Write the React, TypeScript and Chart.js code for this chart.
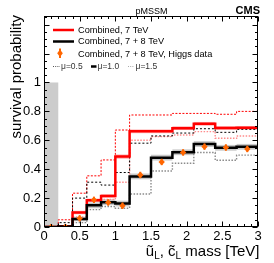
import React, { useEffect, useRef } from 'react';
import { Chart, registerables } from 'chart.js';

Chart.register(...registerables);

// ---- data ----
const binEdges = [0, 0.2, 0.4, 0.6, 0.8, 1.0, 1.2, 1.5, 1.8, 2.1, 2.4, 2.7, 3.0];
const binCenters = [0.1, 0.3, 0.5, 0.7, 0.9, 1.1, 1.35, 1.65, 1.95, 2.25, 2.55, 2.85];
const red7 = [0, 0.005, 0.1, 0.185, 0.215, 0.487, 0.662, 0.662, 0.684, 0.714, 0.685, 0.686];
const red7Err = [0, 0.005, 0.012, 0.012, 0.012, 0.015, 0.013, 0.013, 0.013, 0.013, 0.013, 0.013];
const red7Mu05 = [0, 0.05, 0.234, 0.354, 0.464, 0.671, 0.775, 0.775, 0.786, 0.786, 0.78, 0.8];
const red7Mu15 = [0, 0.0, 0.07, 0.15, 0.19, 0.31, 0.6, 0.625, 0.637, 0.66, 0.614, 0.63];
const black78 = [0, 0.003, 0.055, 0.15, 0.172, 0.162, 0.35, 0.48, 0.517, 0.574, 0.548, 0.555];
const black78Err = [0, 0.005, 0.015, 0.02, 0.02, 0.02, 0.02, 0.02, 0.02, 0.02, 0.02, 0.02];
const black78Mu05 = [0, 0.03, 0.2, 0.31, 0.29, 0.377, 0.58, 0.63, 0.65, 0.68, 0.655, 0.676];
const black78Mu15 = [0, 0, 0.03, 0.12, 0.142, 0.13, 0.228, 0.388, 0.441, 0.515, 0.462, 0.497];
const higgs = [0, 0, 0.06, 0.188, 0.17, 0.147, 0.36, 0.45, 0.516, 0.556, 0.55, 0.54];
const higgsErr = [0.02, 0.02, 0.022, 0.022, 0.022, 0.022, 0.022, 0.022, 0.022, 0.022, 0.022, 0.022];
const excludedX = [0, 0.2];
const excludedY = [0, 1.0];
const xTickLabels = ['0', '0.5', '1', '1.5', '2', '2.5', '3'];
const yTickLabels = ['0', '0.2', '0.4', '0.6', '0.8', '1'];
const legendLabels = ['Combined, 7 TeV', 'Combined, 7 + 8 TeV', 'Combined, 7 + 8 TeV, Higgs data'];
const muLabels = ['\u03bc=0.5', '\u03bc=1.0', '\u03bc=1.5'];

const FONT = "'Liberation Sans', Arial, Helvetica, sans-serif";

function stepPoints(values: number[]) {
  const pts = values.map((v, i) => ({ x: binEdges[i], y: v }));
  pts.push({ x: binEdges[binEdges.length - 1], y: values[values.length - 1] });
  return pts;
}

const rootPlugin = {
  id: 'rootStyle',
  beforeDatasetsDraw(chart: any) {
    const { ctx, scales } = chart;
    const x = scales.x, y = scales.y;
    ctx.save();
    ctx.fillStyle = '#cccccc';
    const ex0 = x.getPixelForValue(excludedX[0]);
    const ex1 = x.getPixelForValue(excludedX[1]);
    const ey0 = y.getPixelForValue(excludedY[0]);
    const ey1 = y.getPixelForValue(excludedY[1]);
    ctx.fillRect(ex0, ey1, ex1 - ex0, ey0 - ey1);
    const band = (vals: number[], errs: number[], color: string) => {
      ctx.fillStyle = color;
      for (let i = 0; i < vals.length; i++) {
        const a = x.getPixelForValue(binEdges[i]);
        const b = x.getPixelForValue(binEdges[i + 1]);
        const t = y.getPixelForValue(vals[i] + errs[i]);
        const btm = y.getPixelForValue(Math.max(0, vals[i] - errs[i]));
        ctx.fillRect(a, t, b - a, btm - t);
      }
    };
    band(red7, red7Err, '#ffb4b4');
    band(black78, black78Err, '#c8c8c8');
    ctx.restore();
  },
  afterDatasetsDraw(chart: any) {
    const { ctx, scales } = chart;
    const x = scales.x, y = scales.y;
    ctx.save();
    ctx.strokeStyle = '#ff6600';
    ctx.lineWidth = 2;
    for (let i = 0; i < binCenters.length; i++) {
      const px = x.getPixelForValue(binCenters[i]);
      const top = y.getPixelForValue(higgs[i] + higgsErr[i]);
      const bot = y.getPixelForValue(Math.max(0, higgs[i] - higgsErr[i]));
      ctx.beginPath();
      ctx.moveTo(px, top);
      ctx.lineTo(px, Math.min(bot, y.getPixelForValue(0)));
      ctx.stroke();
    }
    ctx.restore();
  },
  afterDraw(chart: any) {
    const { ctx, chartArea, scales } = chart;
    const x = scales.x, y = scales.y;
    const L = Math.round(chartArea.left) + 0.5;
    const R = Math.round(chartArea.right) - 0.5;
    const T = Math.round(chartArea.top) + 0.5;
    const B = Math.round(chartArea.bottom) - 0.5;
    ctx.save();
    ctx.strokeStyle = '#000';
    ctx.lineWidth = 1;
    ctx.strokeRect(L, T, R - L, B - T);
    ctx.beginPath();
    for (let k = 0; k <= 30; k++) {
      const v = k * 0.1;
      const px = Math.round(x.getPixelForValue(v)) + 0.5;
      const len = k % 5 === 0 ? 5 : 2.5;
      ctx.moveTo(px, B); ctx.lineTo(px, B - len);
      ctx.moveTo(px, T); ctx.lineTo(px, T + len);
    }
    for (let k = 0; k <= 29; k++) {
      const v = k * 0.05;
      const py = Math.round(y.getPixelForValue(v)) + 0.5;
      const len = k % 4 === 0 ? 5 : 2.5;
      ctx.moveTo(L, py); ctx.lineTo(L + len, py);
      ctx.moveTo(R, py); ctx.lineTo(R - len, py);
    }
    ctx.stroke();

    ctx.fillStyle = '#000';
    ctx.font = `9px ${FONT}`;
    ctx.textAlign = 'center';
    ctx.textBaseline = 'alphabetic';
    ctx.fillText('pMSSM', 151.5, 13.5);
    ctx.font = `bold 11px ${FONT}`;
    ctx.textAlign = 'right';
    ctx.fillText('CMS', 260, 14);

    ctx.save();
    ctx.translate(20.5, 15);
    ctx.rotate(-Math.PI / 2);
    ctx.font = `15px ${FONT}`;
    ctx.textAlign = 'right';
    ctx.textBaseline = 'alphabetic';
    ctx.fillText('survival probability', 0, 0);
    ctx.restore();

    const main = `15px ${FONT}`;
    const sub = `10px ${FONT}`;
    const pieces: { t: string; f: string; dy: number }[] = [
      { t: '\u0169', f: main, dy: 0 },
      { t: 'L', f: sub, dy: 3 },
      { t: ', ', f: main, dy: 0 },
      { t: 'c\u0303', f: main, dy: 0 },
      { t: 'L', f: sub, dy: 3 },
      { t: ' mass [TeV]', f: main, dy: 0 },
    ];
    let total = 0;
    for (const p of pieces) { ctx.font = p.f; total += ctx.measureText(p.t).width; }
    let cx = 259.5 - total;
    ctx.textAlign = 'left';
    for (const p of pieces) {
      ctx.font = p.f;
      ctx.fillText(p.t, cx, 256 + p.dy);
      cx += ctx.measureText(p.t).width;
    }

    ctx.font = `9.2px ${FONT}`;
    ctx.lineWidth = 2.5;
    ctx.strokeStyle = '#ff0000';
    ctx.beginPath(); ctx.moveTo(53, 30); ctx.lineTo(74, 30); ctx.stroke();
    ctx.strokeStyle = '#000';
    ctx.beginPath(); ctx.moveTo(53, 41.5); ctx.lineTo(74, 41.5); ctx.stroke();
    ctx.fillStyle = '#ff6600';
    ctx.beginPath();
    ctx.moveTo(60, 49.5); ctx.lineTo(62.8, 53.3); ctx.lineTo(60, 57.1); ctx.lineTo(57.2, 53.3);
    ctx.closePath(); ctx.fill();
    ctx.strokeStyle = '#ff6600'; ctx.lineWidth = 2;
    ctx.beginPath(); ctx.moveTo(60, 48.5); ctx.lineTo(60, 58); ctx.stroke();
    ctx.fillStyle = '#000';
    ctx.fillText(legendLabels[0], 78, 32.8);
    ctx.fillText(legendLabels[1], 78, 44.4);
    ctx.fillText(legendLabels[2], 78, 56.8);
    ctx.font = `8.5px ${FONT}`;
    ctx.lineWidth = 1;
    ctx.strokeStyle = '#555';
    ctx.setLineDash([1, 1.2]);
    ctx.beginPath(); ctx.moveTo(53, 66.5); ctx.lineTo(60, 66.5); ctx.stroke();
    ctx.strokeStyle = '#aaa';
    ctx.beginPath(); ctx.moveTo(128, 66.5); ctx.lineTo(134, 66.5); ctx.stroke();
    ctx.setLineDash([]);
    ctx.strokeStyle = '#000'; ctx.lineWidth = 2.5;
    ctx.beginPath(); ctx.moveTo(91, 66.5); ctx.lineTo(96.5, 66.5); ctx.stroke();
    ctx.fillStyle = '#333';
    ctx.fillText(muLabels[0], 61, 69);
    ctx.fillText(muLabels[1], 97.5, 69);
    ctx.fillText(muLabels[2], 135.5, 69);
    ctx.restore();
  },
};

export default function App() {
  const ref = useRef<HTMLCanvasElement | null>(null);
  useEffect(() => {
    document.body.style.margin = '0';
    if (!ref.current) return;
    const stepDs = (label: string, vals: number[], color: string, width: number, dash: number[]) => ({
      label,
      data: stepPoints(vals),
      borderColor: color,
      backgroundColor: color,
      borderWidth: width,
      borderDash: dash,
      stepped: 'before' as const,
      pointRadius: 0,
      fill: false,
      showLine: true,
    });
    const chart = new Chart(ref.current, {
      type: 'line',
      data: {
        datasets: [
          {
            label: legendLabels[2],
            data: binCenters.map((c, i) => ({ x: c, y: higgs[i] })),
            showLine: false,
            pointStyle: 'rectRot',
            pointRadius: 3.2,
            backgroundColor: '#ff6600',
            borderColor: '#ff6600',
            borderWidth: 0,
          } as any,
          stepDs(legendLabels[1], black78, '#000000', 2.5, []),
          stepDs(legendLabels[0], red7, '#ff0000', 2.5, []),
          stepDs('7+8 mu0.5', black78Mu05, '#000000', 1, [2, 2]),
          stepDs('7+8 mu1.5', black78Mu15, '#8a8a8a', 1.4, [1.5, 1.5]),
          stepDs('7 mu0.5', red7Mu05, '#ff0000', 1, [2, 1.5]),
          stepDs('7 mu1.5', red7Mu15, '#ff8c8c', 1.4, [1.5, 1.5]),
        ],
      },
      options: {
        animation: false,
        responsive: false,
        maintainAspectRatio: false,
        layout: { padding: { left: 0, right: 16, top: 16, bottom: 0 } },
        plugins: {
          legend: { display: false },
          tooltip: { enabled: false },
          title: { display: false },
        },
        scales: {
          x: {
            type: 'linear',
            min: 0,
            max: 3,
            grid: { display: false, drawTicks: false },
            border: { display: false },
            ticks: {
              stepSize: 0.5,
              color: '#000',
              padding: 1.5,
              maxRotation: 0,
              autoSkip: false,
              font: { family: FONT, size: 13 },
              callback: (v: any) => {
                const idx = Math.round(Number(v) / 0.5);
                return xTickLabels[idx] ?? '';
              },
            },
            afterFit: (s: any) => { s.height = 36; },
          },
          y: {
            type: 'linear',
            min: 0,
            max: 1.46,
            grid: { display: false, drawTicks: false },
            border: { display: false },
            ticks: {
              stepSize: 0.2,
              color: '#000',
              padding: 3,
              autoSkip: false,
              font: { family: FONT, size: 13 },
              callback: (v: any) => {
                const n = Number(v);
                const idx = Math.round(n / 0.2);
                if (Math.abs(n - idx * 0.2) > 1e-6) return '';
                return yTickLabels[idx] ?? '';
              },
            },
            afterFit: (s: any) => { s.width = 44; },
          },
        },
      },
      plugins: [rootPlugin],
    });
    return () => chart.destroy();
  }, []);
  return (
    <div style={{ width: 274, height: 263, background: '#fff' }}>
      <canvas ref={ref} width={274} height={263} style={{ display: 'block' }} />
    </div>
  );
}
